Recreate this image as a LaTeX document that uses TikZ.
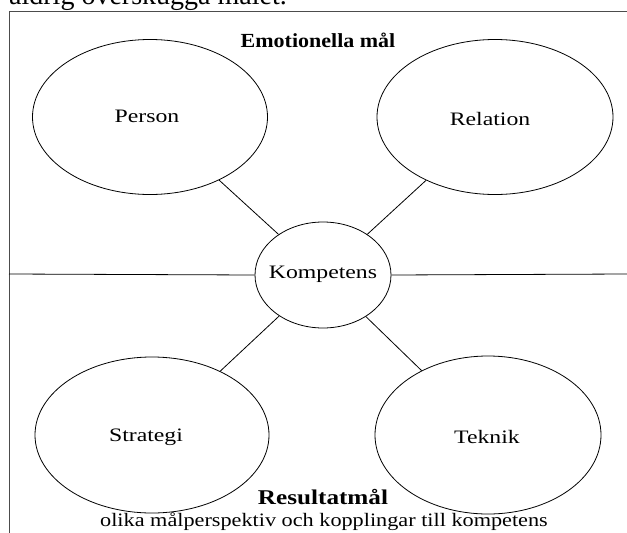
\documentclass[tikz,border=0pt]{standalone}
\usepackage{fontspec}
\setmainfont{Liberation Serif}
\usetikzlibrary{shapes.geometric}
\begin{document}
\begin{tikzpicture}[x=1pt,y=-1pt,
  oval/.style={draw, ellipse, line width=0.8pt, inner sep=0pt},
  lbl/.style={font=\fontsize{19}{22}\selectfont, xscale=1.25},
  link/.style={line width=0.8pt},
  frame/.style={line width=0.9pt, draw=black!70}]
\useasboundingbox (0,0) rectangle (627,533);
\clip (0,0) rectangle (627,533);
\node[anchor=base west, inner sep=0pt, font=\fontsize{28}{32}\selectfont] (top) at (9,4) {aldrig överskugga målet.};
\draw[frame] (9,533) coordinate (fl) -- (9,11) coordinate (tl) -- (627,11) coordinate (tr);
\coordinate (hl) at (9,274);
\coordinate (hr) at (627,274);
\node[oval, minimum width=235pt, minimum height=155pt] (person) at (150,117) {};
\node[lbl] (tperson) at (147,116) {Person};
\node[oval, minimum width=236pt, minimum height=155pt] (relation) at (495,117) {};
\node[lbl] (trelation) at (490,119) {Relation};
\node[oval, minimum width=234pt, minimum height=156pt] (strategi) at (152,435) {};
\node[lbl] (tstrategi) at (146,437) {Strategi};
\node[oval, minimum width=226pt, minimum height=158pt] (teknik) at (488,435) {};
\node[lbl] (tteknik) at (487,437) {Teknik};
\node[oval, minimum width=136pt, minimum height=106pt] (komp) at (323,275) {};
\node[lbl] (tkomp) at (323,274) {Kompetens};
\draw[link] (hl) -- (komp.west);
\draw[link] (komp.east) -- (hr);
\draw[link] (person) -- (komp);
\draw[link] (relation) -- (komp);
\draw[link] (strategi) -- (komp);
\draw[link] (teknik) -- (komp);
\node[font=\bfseries\fontsize{20}{24}\selectfont, xscale=1.1] (emo) at (318,40) {Emotionella mål};
\node[font=\bfseries\fontsize{21}{24}\selectfont, xscale=1.2] (res) at (323,497) {Resultatmål};
\node[font=\fontsize{19}{22}\selectfont, xscale=1.17] (sub) at (324,522) {olika målperspektiv och kopplingar till kompetens};
\end{tikzpicture}
\end{document}
